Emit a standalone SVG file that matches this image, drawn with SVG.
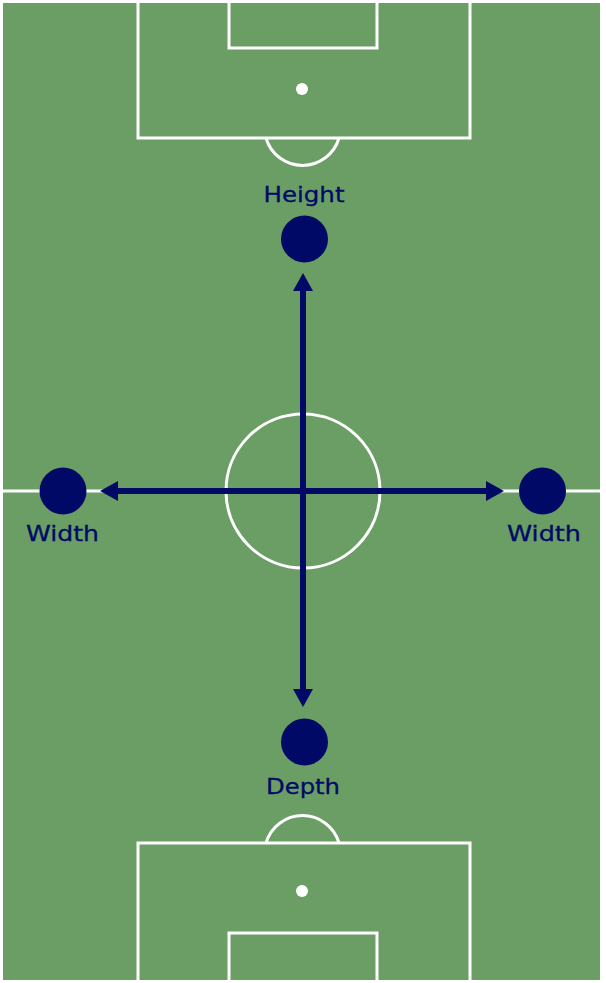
<svg xmlns="http://www.w3.org/2000/svg" width="606" height="983" viewBox="0 0 606 983">
<style>
.line{fill:none;stroke:#ffffff;stroke-width:3}
.spot{fill:#ffffff}
.node{fill:#000a66}
.lbl{font-family:"DejaVu Sans","Liberation Sans",sans-serif;font-size:21px;fill:#000a66;text-anchor:middle;stroke:#000a66;stroke-width:0.3}
.conn{stroke:#000a66;stroke-width:6;fill:none}
</style>
<defs>
<marker id="ah" viewBox="0 0 18 20" refX="0" refY="10" markerWidth="18" markerHeight="20" markerUnits="userSpaceOnUse" orient="auto">
<path d="M0,0 L18,10 L0,20 Z" fill="#000a66"/>
</marker>
</defs>
<rect x="0" y="0" width="606" height="983" fill="#ffffff"/>
<g id="pitch">
<rect x="3" y="3" width="597" height="977" fill="#6a9e65"/>
<line class="line" x1="3" y1="491" x2="600" y2="491"/>
<circle class="line" cx="303" cy="491" r="77"/>
<path class="line" d="M138,3 V138 H470 V3"/>
<path class="line" d="M229,3 V48 H377 V3"/>
<circle class="spot" cx="302" cy="89" r="6"/>
<path class="line" d="M266,138 A38,38 0 0 0 339,138"/>
<path class="line" d="M138,980 V843 H470 V980"/>
<path class="line" d="M229,980 V933 H377 V980"/>
<circle class="spot" cx="302" cy="891" r="6"/>
<path class="line" d="M266,843 A38,38 0 0 1 339,843"/>
</g>
<g id="connectors">
<line class="conn" x1="303" y1="491" x2="303" y2="291" marker-end="url(#ah)"/>
<line class="conn" x1="303" y1="491" x2="303" y2="689" marker-end="url(#ah)"/>
<line class="conn" x1="303" y1="491" x2="118" y2="491" marker-end="url(#ah)"/>
<line class="conn" x1="303" y1="491" x2="486" y2="491" marker-end="url(#ah)"/>
</g>
<g id="node-height">
<circle class="node" cx="304.5" cy="239" r="23.5"/>
<text class="lbl" x="304" y="202" textLength="81" lengthAdjust="spacingAndGlyphs">Height</text>
</g>
<g id="node-depth">
<circle class="node" cx="304.5" cy="742" r="23.5"/>
<text class="lbl" x="303" y="794" textLength="74" lengthAdjust="spacingAndGlyphs">Depth</text>
</g>
<g id="node-width-left">
<circle class="node" cx="63" cy="491" r="23.5"/>
<text class="lbl" x="62.5" y="541" textLength="73" lengthAdjust="spacingAndGlyphs">Width</text>
</g>
<g id="node-width-right">
<circle class="node" cx="542.5" cy="491" r="23.5"/>
<text class="lbl" x="544" y="541" textLength="74" lengthAdjust="spacingAndGlyphs">Width</text>
</g>
</svg>
